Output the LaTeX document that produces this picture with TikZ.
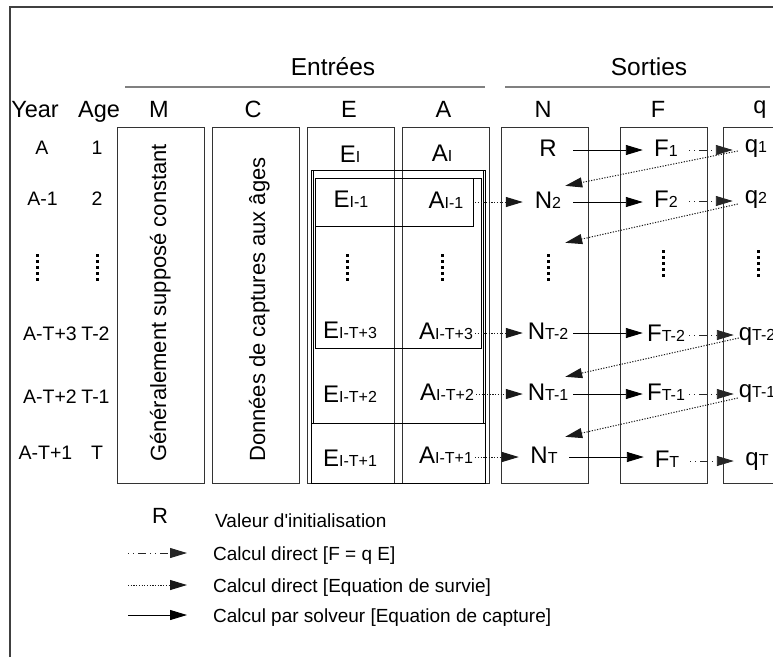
\documentclass[tikz,border=0pt]{standalone}
\usepackage{fontspec}
\setmainfont{Liberation Sans}
\usetikzlibrary{arrows.meta,calc}
\newcommand\sbx[2]{#1{\fontsize{16}{16}\selectfont #2}}
\tikzset{
  big/.style={font=\fontsize{24}{24}\selectfont, inner sep=0pt, text height=14pt, text depth=2pt},
  colE/.style={big},
  colA/.style={big, minimum width=58pt},
  colN/.style={big, minimum width=50pt},
  colF/.style={big, minimum width=46pt},
  colQ/.style={big, minimum width=46pt},
  rowlab/.style={font=\fontsize{19.5}{19.5}\selectfont, inner sep=0pt, anchor=base},
  head/.style={font=\fontsize{23.5}{23.5}\selectfont, inner sep=0pt, anchor=base},
  title/.style={font=\fontsize{24.5}{24.5}\selectfont, inner sep=0pt, anchor=base},
  vtext/.style={font=\fontsize{22}{22}\selectfont, inner sep=0pt, rotate=90, anchor=base west},
  legtext/.style={font=\fontsize{19}{19}\selectfont, inner sep=0pt, anchor=base west},
  colbox/.style={draw=black!80, line width=0.8pt},
  inbox/.style={draw=black, line width=0.8pt},
  solidarr/.style={-{Triangle[length=17pt,width=10pt]}, line width=0.9pt, black},
  dotarr/.style={-{Triangle[length=17pt,width=10pt]}, line width=1pt, black!90, dash pattern=on 1.2pt off 1.5pt},
  dasharr/.style={-{Triangle[length=17pt,width=10pt]}, line width=0.9pt, black!85, dash pattern=on 1pt off 4pt on 1pt off 4pt on 8pt off 4pt},
  vdotline/.style={line width=3pt, dash pattern=on 3pt off 3pt, black},
}
\begin{document}
\begin{tikzpicture}[x=1pt,y=-1pt]
\useasboundingbox (0,0) rectangle (773,657);
% frame
\draw[black!75, line width=1.2pt] (10,657) -- (10,7) -- (773,7);
% titles
\node[title] (tin) at (333,75) {Entrées};
\node[title] (tout) at (649,75) {Sorties};
\draw[black!50, line width=2pt] (125,87) -- (485,87);
\draw[black!50, line width=2pt] (505,87) -- (770,87);
% column heads
\node[head] (hY) at (35,117) {Year};
\node[head] (hAge) at (99,117) {Age};
\node[head] (hM) at (159,117) {M};
\node[head] (hC) at (253,117) {C};
\node[head] (hE) at (349,117) {E};
\node[head] (hA) at (443.5,117) {A};
\node[head] (hN) at (543,117) {N};
\node[head] (hF) at (658,117) {F};
\node[head] (hq) at (760,113) {q};
% column boxes
\draw[colbox] (117,127) rectangle (204,483);
\draw[colbox] (212,127) rectangle (299,483);
\draw[colbox] (307,127) rectangle (394,483);
\draw[colbox] (402,127) rectangle (489,483);
\draw[colbox] (501,127) rectangle (588,483);
\draw[colbox] (620,127) rectangle (707,483);
\draw[colbox] (775,127) -- (723,127) -- (723,483) -- (775,483);
% inner rectangles in E/A
\draw[inbox] (311,170) rectangle (485.5,483);
\draw[inbox] (313,170) rectangle (483,423);
\draw[inbox] (315,178) rectangle (481,348);
\draw[inbox] (315,178) rectangle (473,226);
\draw[inbox] (311,423) -- (485.5,423);
% rotated texts
\node[vtext] (Mt) at (166,462) {Généralement supposé constant};
\node[vtext] (Ct) at (265,462) {Données de captures aux âges};
% row labels
\node[rowlab] (y1) at (42,154) {A};
\node[rowlab] (a1) at (97,154) {1};
\node[rowlab] (y2) at (42.5,205) {A-1};
\node[rowlab] (a2) at (97,205) {2};
\node[rowlab] (y4) at (50,340) {A-T+3};
\node[rowlab] (a4) at (95.5,340) {T-2};
\node[rowlab] (y5) at (50,403) {A-T+2};
\node[rowlab] (a5) at (95.5,403) {T-1};
\node[rowlab] (y6) at (45.5,459) {A-T+1};
\node[rowlab] (a6) at (97,459) {T};
% E column
\node[colE] (E1) at (350,156) {\sbx{E}{I}};
\node[colE] (E2) at (351,201) {\sbx{E}{I-1}};
\node[colE] (E4) at (350,332) {\sbx{E}{I-T+3}};
\node[colE] (E5) at (350,396) {\sbx{E}{I-T+2}};
\node[colE] (E6) at (350,460) {\sbx{E}{I-T+1}};
% A column
\node[colE] (A1) at (442,155) {\sbx{A}{I}};
\node[colA] (A2) at (446,202) {\sbx{A}{I-1}};
\node[colA] (A4) at (446,333) {\sbx{A}{I-T+3}};
\node[colA] (A5) at (447,394) {\sbx{A}{I-T+2}};
\node[colA] (A6) at (446,457) {\sbx{A}{I-T+1}};
% N column
\node[colN] (R) at (548,150) {R};
\node[colN] (N2) at (548,202) {\sbx{N}{2}};
\node[inner sep=0pt, minimum width=50pt, minimum height=30pt] (Nd) at (548,268) {};
\node[colN] (N4) at (548,333) {\sbx{N}{T-2}};
\node[colN] (N5) at (548,394) {\sbx{N}{T-1}};
\node[colN] (N6) at (544,457) {\sbx{N}{T}};
% F column
\node[colF] (F1) at (666,150) {\sbx{F}{1}};
\node[colF] (F2) at (666,201) {\sbx{F}{2}};
\node[colF] (F4) at (666,335) {\sbx{F}{T-2}};
\node[colF] (F5) at (666,394) {\sbx{F}{T-1}};
\node[colF] (F6) at (667,461) {\sbx{F}{T}};
% q column
\node[colQ] (q1) at (756,146) {\sbx{q}{1}};
\node[colQ] (q2) at (756,197) {\sbx{q}{2}};
\node[colQ] (q4) at (757,334) {\sbx{q}{T-2}};
\node[colQ] (q5) at (757,391) {\sbx{q}{T-1}};
\node[colQ] (q6) at (757,459) {\sbx{q}{T}};
% vertical dots
\draw[vdotline] (37,254) -- (37,281);
\draw[vdotline] (97,254) -- (97,281);
\draw[vdotline] (347,254) -- (347,281);
\draw[vdotline] (442,254) -- (442,281);
\draw[vdotline] (Nd.center) ++(0,-14) -- ++(0,27);
\draw[vdotline] (663,250) -- (663,277);
\draw[vdotline] (758,250) -- (758,277);
% row 1
\draw[solidarr] (R.east) -- (R.east -| F1.west);
\draw[dasharr] (F1.east) -- (F1.east -| q1.west);
\draw[dotarr] ([xshift=5pt,yshift=-5pt]q1.west) -- ([xshift=-8pt,yshift=8pt]N2.north east);
% row 2
\draw[dotarr] (A2.east) -- (A2.east -| N2.west);
\draw[solidarr] (N2.east) -- (N2.east -| F2.west);
\draw[dasharr] (F2.east) -- (F2.east -| q2.west);
\draw[dotarr] ([xshift=5pt,yshift=-7pt]q2.west) -- ([xshift=-8pt,yshift=10pt]Nd.north east);
% row T-2
\draw[dotarr] (A4.east) -- (A4.east -| N4.west);
\draw[solidarr] (N4.east) -- (N4.east -| F4.west);
\draw[dasharr] (F4.east) -- (F4.east -| q4.west);
\draw[dotarr] ([xshift=5pt,yshift=-4pt]q4.west) -- ([xshift=-8pt,yshift=9pt]N5.north east);
% row T-1
\draw[dotarr] (A5.east) -- (A5.east -| N5.west);
\draw[solidarr] (N5.east) -- (N5.east -| F5.west);
\draw[dasharr] (F5.east) -- (F5.east -| q5.west);
\draw[dotarr] ([xshift=4pt,yshift=-7pt]q5.west) -- ([xshift=-4pt,yshift=12pt]N6.north east);
% row T
\draw[dotarr] (A6.east) -- (A6.east -| N6.west);
\draw[solidarr] (N6.east) -- (N6.east -| F6.west);
\draw[dasharr] (F6.east) -- (F6.east -| q6.west);
% legend
\node[font=\fontsize{22}{22}\selectfont, inner sep=0pt, anchor=base] (lR) at (160,523) {R};
\node[legtext] (lt1) at (215,527) {Valeur d\textquotesingle initialisation};
\node[legtext] (lt2) at (213,560) {Calcul direct [F = q E]};
\node[legtext] (lt3) at (213,592) {Calcul direct [Equation de survie]};
\node[legtext] (lt4) at (213,622) {Calcul par solveur [Equation de capture]};
\coordinate (l2a) at (128,553); \coordinate (l2b) at (187,553);
\coordinate (l3a) at (128,585); \coordinate (l3b) at (187,585);
\coordinate (l4a) at (128,615); \coordinate (l4b) at (187,615);
\draw[dasharr] (l2a) -- (l2b);
\draw[dotarr] (l3a) -- (l3b);
\draw[solidarr] (l4a) -- (l4b);
\end{tikzpicture}
\end{document}
